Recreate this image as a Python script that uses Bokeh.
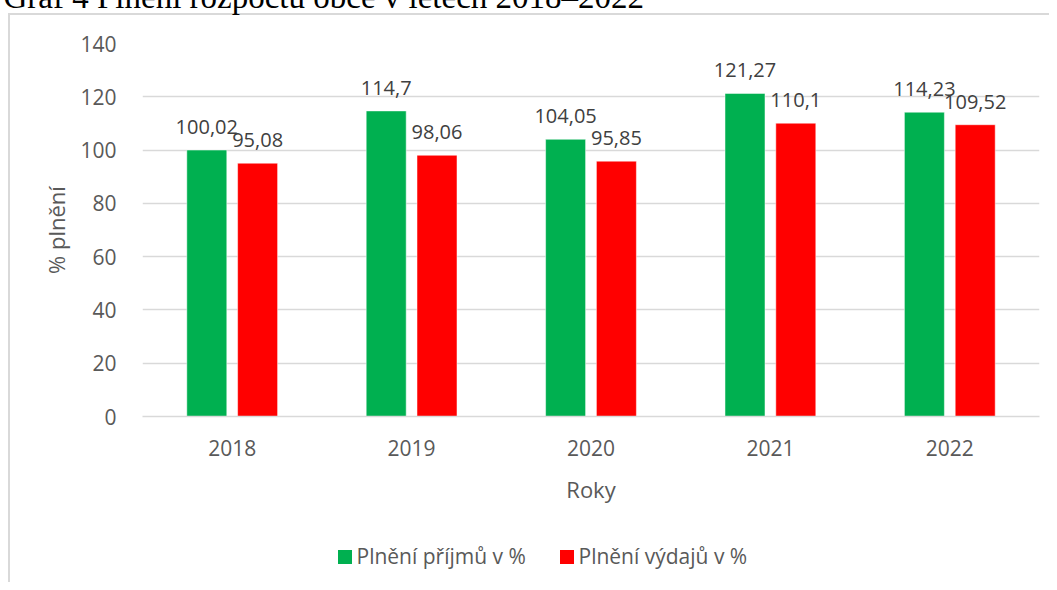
from bokeh.plotting import figure
from bokeh.models import (FactorRange, ColumnDataSource, FixedTicker, Label)
from bokeh.transform import dodge
from bokeh.core.properties import value
from bokeh.embed import file_html
from bokeh.resources import INLINE

# ---- data ----
years = ["2018", "2019", "2020", "2021", "2022"]
prijmy = [100.02, 114.7, 104.05, 121.27, 114.23]
vydaje = [95.08, 98.06, 95.85, 110.1, 109.52]
series_names = ["Plnění příjmů v %", "Plnění výdajů v %"]
y_ticks = [0, 20, 40, 60, 80, 100, 120, 140]
title_text = "Graf 4 Plnění rozpočtu obce v letech 2018–2022"
x_title = "Roky"
y_title = "% plnění"

GREEN = "#00B050"
RED = "#FF0000"
TXT = "#595959"
LBL = "#404040"
GRID = "#d9d9d9"
FONT = "Open Sans"
colors = [GREEN, RED]

def fmt(v):
    return str(v).replace(".", ",")

src = ColumnDataSource(dict(
    year=years, prijmy=prijmy, vydaje=vydaje,
    lp=[fmt(v) for v in prijmy], lv=[fmt(v) for v in vydaje],
))

W, H = 1049, 582
p = figure(width=W, height=H, x_range=FactorRange(*years, range_padding=0),
           y_range=(0, 140), output_backend="svg", toolbar_location=None,
           min_border_left=142, min_border_right=10, min_border_top=43,
           min_border_bottom=166)
p.outline_line_color = None
p.background_fill_alpha = 0
p.border_fill_alpha = 0

# legend keys + chart-area border (left/top edge), drawn as the element background
leg_x = [338, 560]          # legend key positions (px)
leg_y = 550
key = 14
bg = []
for lx, col in zip(leg_x, colors):
    bg.append(f"linear-gradient({col},{col}) {lx}px {leg_y}px / {key}px {key}px no-repeat")
bg.append(f"linear-gradient({GRID},{GRID}) 8px 13px / 2px 100% no-repeat")
bg.append(f"linear-gradient({GRID},{GRID}) 8px 13px / 100% 2px no-repeat")
bg.append("white")
p.styles = {"background": ", ".join(bg)}

off = 0.1416
bw = 0.223
p.vbar(x=dodge("year", -off, range=p.x_range), top="prijmy", width=bw, source=src,
       fill_color=colors[0], line_color="white", line_alpha=0.5, line_width=1)
p.vbar(x=dodge("year", off, range=p.x_range), top="vydaje", width=bw, source=src,
       fill_color=colors[1], line_color="white", line_alpha=0.5, line_width=1)

p.text(x=dodge("year", -off, range=p.x_range), y="prijmy", text="lp", source=src,
       text_align="center", text_baseline="alphabetic", y_offset=-23,
       text_font=value(FONT), text_font_size="20px", text_color=LBL)
p.text(x=dodge("year", off, range=p.x_range), y="vydaje", text="lv", source=src,
       text_align="center", text_baseline="alphabetic", y_offset=-23,
       text_font=value(FONT), text_font_size="20px", text_color=LBL)

# axes
p.yaxis.ticker = FixedTicker(ticks=y_ticks)
p.yaxis.axis_line_color = None
p.yaxis.major_tick_line_color = None
p.yaxis.minor_tick_line_color = None
p.yaxis.major_label_standoff = 20
p.yaxis.major_label_text_font = FONT
p.yaxis.major_label_text_font_size = "21px"
p.yaxis.major_label_text_color = TXT
p.yaxis.axis_label = y_title
p.yaxis.axis_label_text_font = FONT
p.yaxis.axis_label_text_font_size = "22px"
p.yaxis.axis_label_text_font_style = "normal"
p.yaxis.axis_label_text_color = TXT
p.yaxis.axis_label_standoff = 6

p.xaxis.axis_line_color = GRID
p.xaxis.axis_line_width = 1.5
p.xaxis.major_tick_line_color = None
p.xaxis.minor_tick_line_color = None
p.xaxis.major_label_standoff = 17
p.xaxis.major_label_text_font = FONT
p.xaxis.major_label_text_font_size = "21px"
p.xaxis.major_label_text_color = TXT
p.xaxis.axis_label = x_title
p.xaxis.axis_label_text_font = FONT
p.xaxis.axis_label_text_font_size = "22px"
p.xaxis.axis_label_text_font_style = "normal"
p.xaxis.axis_label_text_color = TXT
p.xaxis.axis_label_standoff = 15

p.xgrid.grid_line_color = None
p.ygrid.grid_line_color = GRID
p.ygrid.grid_line_width = 1.5

# legend texts (in the panel below the plot, so they are not clipped to the frame)
for lx, name in zip(leg_x, series_names):
    p.add_layout(Label(x=lx + 18, y=555, x_units="canvas", y_units="canvas", text=name,
                       text_font=FONT, text_font_size="21px", text_color=TXT,
                       text_baseline="middle"), "below")

# title (clipped at top, as in the source picture)
p.add_layout(Label(x=3, y=-4, x_units="canvas", y_units="canvas", text=title_text,
                   text_font="Liberation Serif", text_font_size="33px", text_color="black",
                   text_baseline="alphabetic"), "above")

open("out.html", "w").write(file_html(p, INLINE))
